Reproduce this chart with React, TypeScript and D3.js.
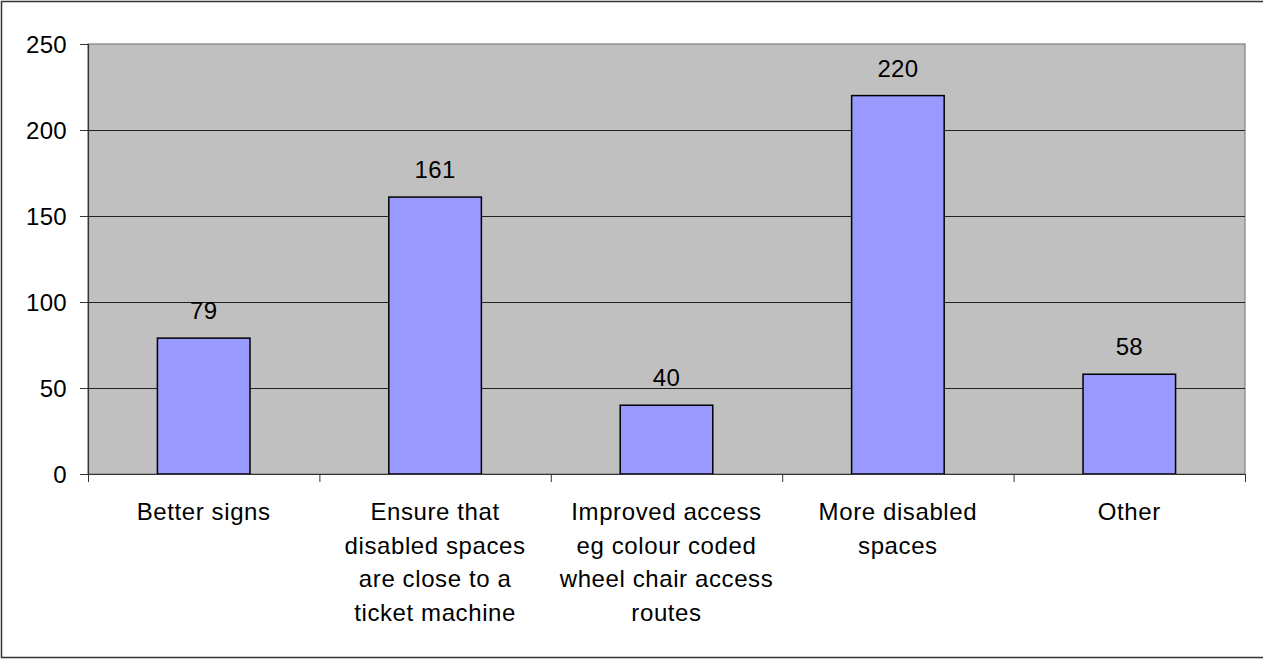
import React from "react";
import * as d3 from "d3";

const categories: string[][] = [
  ["Better signs"],
  ["Ensure that", "disabled spaces", "are close to a", "ticket machine"],
  ["Improved access", "eg colour coded", "wheel chair access", "routes"],
  ["More disabled", "spaces"],
  ["Other"],
];
const values: number[] = [79, 161, 40, 220, 58];
const yTicks: number[] = [0, 50, 100, 150, 200, 250];

const W = 1263;
const H = 659;
const plot = { left: 88, top: 44, right: 1245, bottom: 474 };
const FONT = "'Liberation Sans', Arial, sans-serif";

export default function App() {
  const keys = categories.map((_, i) => String(i));
  const x = d3
    .scaleBand<string>()
    .domain(keys)
    .range([plot.left, plot.right])
    .paddingInner(0.6)
    .paddingOuter(0.3);
  const band = d3.scaleBand<string>().domain(keys).range([plot.left, plot.right]);
  const y = d3.scaleLinear().domain([0, 250]).range([plot.bottom, plot.top]);

  return (
    <svg
      width={W}
      height={H}
      style={{ position: "absolute", left: 0, top: 0, display: "block", background: "#fff" }}
      fontFamily={FONT}
    >
      {/* chart frame */}
      <rect x={1.5} y={1.5} width={W + 4} height={656} fill="#fff" stroke="#333" strokeWidth={1.5} />

      {/* plot area */}
      <rect
        x={plot.left}
        y={plot.top}
        width={plot.right - plot.left}
        height={plot.bottom - plot.top}
        fill="#c0c0c0"
        stroke="#808080"
        strokeWidth={1.2}
      />

      {/* gridlines */}
      {yTicks
        .filter((t) => t > 0 && t < 250)
        .map((t) => (
          <line key={t} x1={plot.left} x2={plot.right} y1={y(t) + 0.5} y2={y(t) + 0.5} stroke="#222" strokeWidth={1} />
        ))}

      {/* bars */}
      {values.map((v, i) => (
        <rect
          key={i}
          x={x(String(i))!}
          y={y(v)}
          width={x.bandwidth()}
          height={y(0) - y(v)}
          fill="#9999ff"
          stroke="#000"
          strokeWidth={1.5}
        />
      ))}

      {/* value labels */}
      {values.map((v, i) => (
        <text
          key={i}
          x={x(String(i))! + x.bandwidth() / 2}
          y={y(v) - 19}
          textAnchor="middle"
          fontSize={24}
          letterSpacing={0.3}
          fill="#000"
        >
          {v}
        </text>
      ))}

      {/* y axis */}
      <line x1={plot.left + 0.5} x2={plot.left + 0.5} y1={plot.top} y2={plot.bottom} stroke="#333" strokeWidth={1.2} />
      {yTicks.map((t) => (
        <g key={t}>
          <line x1={plot.left - 8} x2={plot.left} y1={y(t) + 0.5} y2={y(t) + 0.5} stroke="#333" strokeWidth={1} />
          <text x={67} y={y(t) + 8.5} textAnchor="end" fontSize={24} letterSpacing={0.3} fill="#000">
            {t}
          </text>
        </g>
      ))}

      {/* x axis */}
      <line x1={plot.left} x2={plot.right} y1={plot.bottom + 0.5} y2={plot.bottom + 0.5} stroke="#333" strokeWidth={1.2} />
      {[...keys.map((k) => band(k)!), plot.right].map((bx, i) => (
        <line key={i} x1={bx + 0.5} x2={bx + 0.5} y1={plot.bottom} y2={plot.bottom + 8} stroke="#333" strokeWidth={1} />
      ))}
      {categories.map((lines, i) => (
        <text
          key={i}
          x={band(String(i))! + band.bandwidth() / 2}
          y={520}
          textAnchor="middle"
          fontSize={24}
          letterSpacing={0.6}
          fill="#000"
        >
          {lines.map((ln, j) => (
            <tspan key={j} x={band(String(i))! + band.bandwidth() / 2} dy={j === 0 ? 0 : 33.5}>
              {ln}
            </tspan>
          ))}
        </text>
      ))}
    </svg>
  );
}
